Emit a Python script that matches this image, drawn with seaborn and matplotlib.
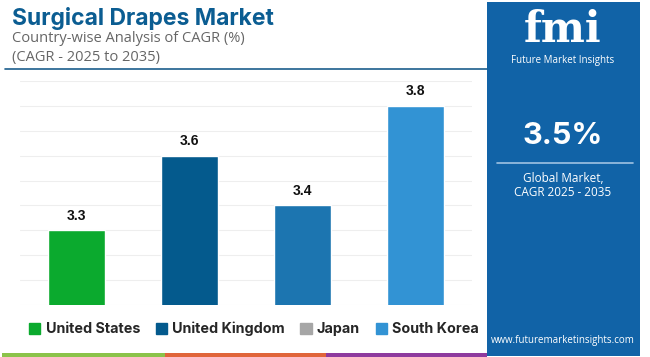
import matplotlib
matplotlib.use("Agg")
import matplotlib.pyplot as plt
import seaborn as sns
import pandas as pd
from matplotlib.patches import Rectangle
from matplotlib.lines import Line2D

# data
countries = ["United States", "United Kingdom", "Japan", "South Korea"]
cagr = [3.3, 3.6, 3.4, 3.8]
bar_colors = ["#0BAA2E", "#045A8D", "#1C75B0", "#3293D4"]
legend_colors = ["#0BAA2E", "#045A8D", "#A6A6A6", "#3293D4"]
global_cagr = "3.5%"

sns.set_theme(style="white")
plt.rcParams['font.family'] = ['Open Sans', 'DejaVu Sans']

fig = plt.figure(figsize=(6.5, 3.57), dpi=100)
W, H = 650, 357

def fx(x):
    return x / W

def fy(y):
    return 1 - y / H

# bar chart area
ax = fig.add_axes([fx(20), fy(305), fx(472) - fx(20), fy(81) - fy(305)])
df = pd.DataFrame({"country": countries, "cagr": cagr})
sns.barplot(data=df, x="country", y="cagr", hue="country", palette=bar_colors,
            width=0.5, ax=ax, legend=False, saturation=1)
ax.set_ylim(3.0, 3.9)
ax.set_xlim(-0.5, 3.5)
ax.set_yticks([3.0 + 0.1 * i for i in range(10)])
ax.yaxis.grid(True, color="#EEEEEE", linewidth=0.8)
ax.set_axisbelow(True)
ax.set_xticks([])
ax.set_yticklabels([])
ax.tick_params(left=False, bottom=False)
ax.set_xlabel("")
ax.set_ylabel("")
for s in ax.spines.values():
    s.set_visible(False)
for i, v in enumerate(cagr):
    ax.text(i, v + 0.03, f"{v}", ha="center", va="bottom", fontsize=10,
            fontweight="bold", color="#111111", family=["Liberation Sans", "DejaVu Sans"])

# header
fig.text(fx(12), fy(19), "Surgical Drapes Market", fontsize=16.5, fontweight="bold",
         color="#0B5D92", va="center", ha="left", family=["Inter", "DejaVu Sans"])
fig.text(fx(12), fy(39), "Country-wise Analysis of CAGR (%)", fontsize=10.5,
         color="#666666", va="center", ha="left")
fig.text(fx(12), fy(58), "(CAGR - 2025 to 2035)", fontsize=10.5,
         color="#666666", va="center", ha="left")
fig.add_artist(Line2D([fx(5), fx(487)], [fy(69), fy(69)], color="#1B5E8C", linewidth=1.2))

# legend
handles = [Rectangle((0, 0), 1, 1, color=c) for c in legend_colors]
fig.legend(handles, countries, loc="center", bbox_to_anchor=(fx(254), fy(329)), ncol=4,
           frameon=False, handlelength=0.8, handleheight=0.8, handletextpad=0.35,
           columnspacing=1.1, prop={"weight": "bold", "size": 10.3, "family": ["Inter", "DejaVu Sans"]})

# bottom color strip
fig.add_artist(Rectangle((fx(2), fy(357)), fx(165) - fx(2), fy(353) - fy(357), color="#8BC34A", lw=0))
fig.add_artist(Rectangle((fx(165), fy(357)), fx(326) - fx(165), fy(353) - fy(357), color="#E0653A", lw=0))
fig.add_artist(Rectangle((fx(326), fy(357)), fx(487) - fx(326), fy(353) - fy(357), color="#8E3A9E", lw=0))

# right panel
fig.add_artist(Rectangle((fx(487), fy(356)), fx(640) - fx(487), fy(2) - fy(356), color="#1163A7", lw=0))
fig.text(fx(563), fy(30), "fmi", fontsize=30, fontweight="bold", color="white",
         ha="center", va="center", family=["DejaVu Serif"])
fig.text(fx(563), fy(61), "Future Market Insights", fontsize=7, color="white",
         ha="center", va="center")
fig.text(fx(563), fy(136), global_cagr, fontsize=22, fontweight="bold", color="white",
         ha="center", va="center", family=["Inter", "DejaVu Sans"])
fig.add_artist(Line2D([fx(497), fx(633)], [fy(163), fy(163)], color="#9FC3E3", linewidth=1.2))
fig.text(fx(563), fy(179), "Global Market,", fontsize=8.5, color="white", ha="center", va="center")
fig.text(fx(563), fy(193), "CAGR 2025 - 2035", fontsize=8.5, color="white", ha="center", va="center")
fig.text(fx(563), fy(341), "www.futuremarketinsights.com", fontsize=7, color="white",
         ha="center", va="center")

fig.savefig("out.png", dpi=100)
